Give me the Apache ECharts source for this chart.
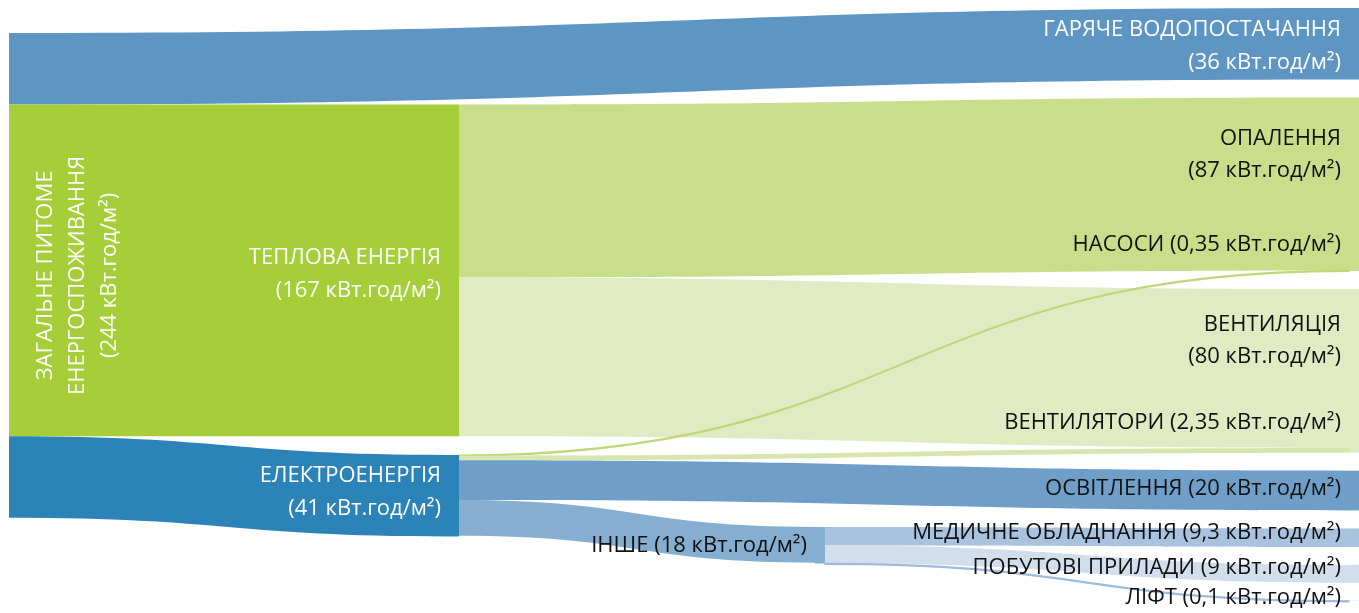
<!DOCTYPE html>
<html><head><meta charset="utf-8">
<script src="https://cdn.jsdelivr.net/npm/echarts@6/dist/echarts.min.js"></script>
<style>html,body{margin:0;padding:0;background:#fff}#c{width:1359px;height:613px}</style>
</head><body><div id="c"></div>
<script>
// ---- data ----
const nodeNames = [
  'ЗАГАЛЬНЕ ПИТОМЕ ЕНЕРГОСПОЖИВАННЯ',
  'ТЕПЛОВА ЕНЕРГІЯ',
  'ЕЛЕКТРОЕНЕРГІЯ',
  'ГАРЯЧЕ ВОДОПОСТАЧАННЯ',
  'ОПАЛЕННЯ',
  'ВЕНТИЛЯЦІЯ',
  'ОСВІТЛЕННЯ',
  'ІНШЕ',
  'МЕДИЧНЕ ОБЛАДНАННЯ',
  'ПОБУТОВІ ПРИЛАДИ',
  'ЛІФТ'
];
const nodeLabelValues = [244, 167, 41, 36, 87, 80, 20, 18, 9.3, 9, 0.1];
const linkSources = [0, 0, 0, 1, 1, 2, 2, 2, 2, 7, 7, 7];
const linkTargets = [3, 1, 2, 4, 5, 4, 5, 6, 7, 8, 9, 10];
const linkValues  = [36, 167, 41, 87, 80, 0.35, 2.35, 20, 18, 9.3, 9, 0.1];
const linkNames   = ['', '', '', '', '', 'НАСОСИ', 'ВЕНТИЛЯТОРИ', '', '', '', '', ''];
const unit = 'кВт.год/м²';

// ---- layout / styles (not data) ----
// node placement inside the sankey view (fractions of the view size)
const nodeLayout = {
  0: {localY: 0.0422},
  1: {localY: 0.1628},
  2: {localY: 0.7538},
  7: {depth: 0, localX: 0.6, localY: 0.8752}
};
const nodeColors = ['rgba(0,0,0,0)', '#a6ce39', '#2b83b7', '#5e95c3', '#c8de8b', '#e0ebc3',
                    '#6f9fc8', '#85aed1', '#a9c2de', '#d2deec', '#a9c2de'];
const linkColors = ['#5e95c3', '#a6ce39', '#2b83b7', '#c8de8b', '#e0ebc3', '#bdd878', '#d6e6ad',
                    '#6f9fc8', '#85aed1', '#a9c2de', '#d2deec', '#9fbbdb'];
const labelOffsets = [[0, 0], [0, 4], [0, -4], [0, 2], [0, 7], [0, 3], [0, -2], [0, 0], [0, -5], [0, -6], [0, -3]];
const FONT = '"Open Sans", "Noto Sans", sans-serif';
const FS = 22;
const fmt = v => String(v).replace('.', ',');
const valTxt = i => '(' + fmt(nodeLabelValues[i]) + ' ' + unit + ')';

function subLabel(i) {
  const k = linkTargets.findIndex((t, j) => t === i && linkNames[j]);
  return k >= 0 ? linkNames[k] + ' (' + fmt(linkValues[k]) + ' ' + unit + ')' : null;
}

function labelFor(i) {
  const base = {show: true, fontFamily: FONT, fontSize: FS, color: '#111', lineHeight: 33,
                position: 'left', distance: 8, align: 'right', offset: labelOffsets[i]};
  const name = nodeNames[i];
  if (i === 0) {
    return Object.assign(base, {color: '#fff', position: [78.5, '50%'], align: 'center',
      verticalAlign: 'middle', rotate: 90, lineHeight: 32,
      formatter: 'ЗАГАЛЬНЕ ПИТОМЕ\nЕНЕРГОСПОЖИВАННЯ\n' + valTxt(0)});
  }
  if (i === 1 || i === 2 || i === 3) {
    return Object.assign(base, {color: '#fff', formatter: name + '\n' + valTxt(i)});
  }
  const sub = subLabel(i);
  if (sub) {
    return Object.assign(base, {
      formatter: '{a|' + name + '}\n{a|' + valTxt(i) + '}\n{g|}\n{a|' + sub + '}',
      rich: {a: {fontFamily: FONT, fontSize: FS, color: '#111', lineHeight: 32, align: 'right'},
             g: {lineHeight: i === 4 ? 42 : 34, fontSize: 10}}
    });
  }
  return Object.assign(base, {formatter: name + ' ' + valTxt(i)});
}

const nodes = nodeNames.map((n, i) => Object.assign({
  name: n,
  itemStyle: {color: nodeColors[i], borderWidth: 0, opacity: 1},
  label: labelFor(i)
}, nodeLayout[i] || {}));
const links = linkSources.map((s, j) => ({
  source: nodeNames[s], target: nodeNames[linkTargets[j]], value: linkValues[j],
  lineStyle: linkValues[j] < 1
    ? {color: linkColors[j], opacity: 1, borderColor: linkColors[j], borderWidth: 1.2}
    : {color: linkColors[j], opacity: 1}
}));

const chart = echarts.init(document.getElementById('c'), null, {renderer: 'canvas'});
chart.setOption({
  animation: false,
  series: [{
    type: 'sankey',
    left: -1, right: 0, top: 8, bottom: 12,
    nodeWidth: 10,
    nodeGap: 18,
    layoutIterations: 0,
    draggable: false,
    emphasis: {disabled: true},
    itemStyle: {opacity: 1, borderWidth: 0},
    lineStyle: {curveness: 0.5, opacity: 1},
    data: nodes,
    links: links
  }]
});
</script></body></html>
